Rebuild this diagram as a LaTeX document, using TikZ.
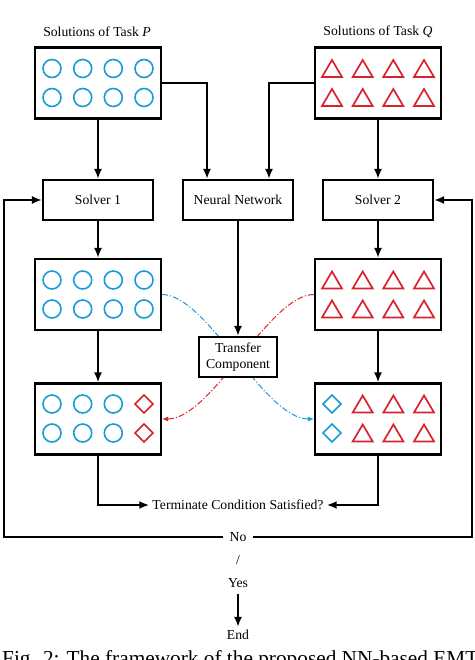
\documentclass[tikz,border=0pt]{standalone}
\usepackage{fontspec}
\setmainfont{Liberation Serif}
\usetikzlibrary{arrows.meta}
\definecolor{solblue}{RGB}{25,155,215}
\definecolor{solred}{RGB}{215,35,45}
\newcommand{\txtfont}{\fontsize{13.7}{16}\selectfont}
\newcommand{\mytri}[2]{\draw[trishape] (#1-10,#2+8.5) -- (#1,#2-8.5) -- (#1+10,#2+8.5) -- cycle;}
\newcommand{\mydia}[3]{\draw[#3, line width=1.7pt, line join=miter] (#1-9,#2) -- (#1,#2-9) -- (#1+9,#2) -- (#1,#2+9) -- cycle;}
\newcommand{\mycirc}[2]{\draw[circshape] (#1,#2) circle[radius=9];}
\begin{document}
\begin{tikzpicture}[x=1pt,y=-1pt,
  popbox/.style={draw, line width=2.1pt, minimum width=126pt, minimum height=71pt, inner sep=0pt},
  procbox/.style={draw, line width=2.1pt, minimum width=110pt, minimum height=40pt, fill=white, font=\txtfont, inner sep=2pt},
  arr/.style={line width=2pt, -{Latex[length=10pt,width=8pt]}},
  lbl/.style={font=\txtfont, inner sep=3pt},
  circshape/.style={solblue, line width=1.6pt},
  trishape/.style={solred, line width=1.7pt, line join=miter},
  tdash/.style={line width=1pt, dash pattern=on 6pt off 2pt on 1.2pt off 2pt, -{Latex[length=6pt,width=5pt]}}]
\clip (0,0) rectangle (474,660);

% titles
\node[lbl] (tP) at (97,32) {Solutions of Task \textit{P}};
\node[lbl] (tQ) at (378,32) {Solutions of Task \textit{Q}};

% population boxes
\node[popbox] (P) at (98,83) {};
\node[popbox] (Q) at (378,83) {};
\node[popbox] (P2) at (98,294.5) {};
\node[popbox] (Q2) at (378,294.5) {};
\node[popbox] (P3) at (98,419) {};
\node[popbox] (Q3) at (378,419) {};

% contents
\foreach \cx in {52,82.7,113.3,144} {
  \mycirc{\cx}{68.5}\mycirc{\cx}{97.5}
  \mycirc{\cx}{280}\mycirc{\cx}{309}
  \mytri{\cx+280}{68.5}\mytri{\cx+280}{97.5}
  \mytri{\cx+280}{280}\mytri{\cx+280}{309}
}
\foreach \cx in {52,82.7,113.3} {
  \mycirc{\cx}{404}\mycirc{\cx}{433}
  \mytri{\cx+310.7}{404}\mytri{\cx+310.7}{433}
}
\mydia{144}{404}{solred}\mydia{144}{433}{solred}
\mydia{332}{404}{solblue}\mydia{332}{433}{solblue}

% process boxes
\node[procbox] (S1) at (98,200) {Solver 1};
\node[procbox] (NN) at (238,200) {Neural Network};
\node[procbox] (S2) at (378,200) {Solver 2};

% transfer curves (behind transfer box)
\draw[tdash, solblue] (P2.east) .. controls +(45,0) and +(-50,0) .. (Q3.west);
\draw[tdash, solred] (Q2.west) .. controls +(-45,0) and +(50,0) .. (P3.east);

\node[procbox, minimum width=78pt, align=center, text width=74pt] (TC) at (238,357) {\txtfont\baselineskip=16pt Transfer\\Component};

% arrows
\draw[arr] (P.south) -- (S1.north);
\draw[arr] (Q.south) -- (S2.north);
\draw[arr] (P.east) -| ([xshift=-31pt]NN.north);
\draw[arr] (Q.west) -| ([xshift=31pt]NN.north);
\draw[arr] (S1.south) -- (P2.north);
\draw[arr] (S2.south) -- (Q2.north);
\draw[arr] (P2.south) -- (P3.north);
\draw[arr] (Q2.south) -- (Q3.north);
\draw[arr] (NN.south) -- (TC.north);

% terminate
\node[lbl] (term) at (238,505) {Terminate Condition Satisfied?};
\draw[arr] (P3.south) |- (term.west);
\draw[arr] (Q3.south) |- (term.east);

\node[lbl, inner sep=6pt] (no) at (238,537) {No};
\node[lbl] (sl) at (238,560) {/};
\node[lbl] (yes) at (238,583) {Yes};
\node[lbl] (end) at (238,635) {End};
\coordinate (fbl) at (4,537);
\coordinate (fbr) at (472,537);
\draw[arr] (no.west) -- (fbl) |- (S1.west);
\draw[arr] (no.east) -- (fbr) |- (S2.east);
\draw[arr, shorten <=3pt] (yes.south) -- (end.north);

% cropped caption (cut by the frame, as in the reference)
\node[anchor=base west, inner sep=0pt, font=\fontsize{21.3}{24}\selectfont] (cap) at (2,665) {Fig. 2: The framework of the proposed NN-based EMT};
\end{tikzpicture}
\end{document}
